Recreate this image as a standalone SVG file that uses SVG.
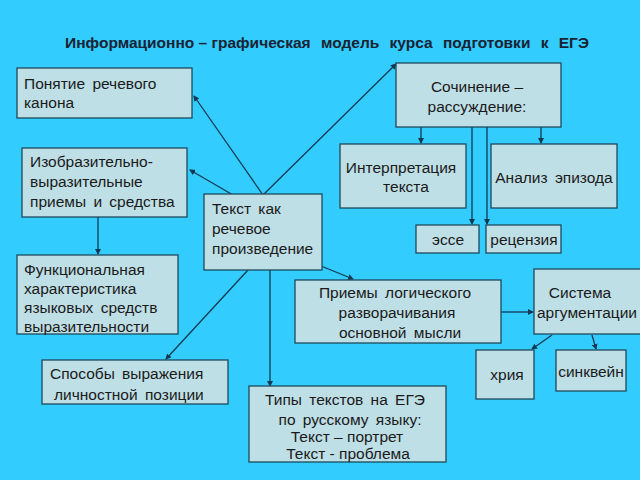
<svg xmlns="http://www.w3.org/2000/svg" width="640" height="480" viewBox="0 0 640 480">
<defs>
<marker id="ah" markerWidth="6" markerHeight="6" refX="5" refY="3" orient="auto" markerUnits="userSpaceOnUse">
<path d="M0,0 L6,3 L0,6 z" fill="#123a55"/>
</marker>
<style>
.b{fill:#bfdfe6;stroke:#1d4a5c;stroke-width:1.3}
.t{font-family:"Liberation Sans",Arial,sans-serif;font-size:15.5px;fill:#1a1a1a;word-spacing:3px}
.c{text-anchor:middle}
.n{word-spacing:0}
.ttl{font-family:"Liberation Sans",Arial,sans-serif;font-size:15.5px;font-weight:bold;fill:#1a2233;text-anchor:middle;word-spacing:6px}
.l{stroke:#123a55;stroke-width:1.3;fill:none;marker-end:url(#ah)}
</style>
</defs>
<rect width="640" height="480" fill="#33ccfe"/>
<text class="ttl" x="327" y="48">Информационно<tspan class="n"> – </tspan>графическая модель курса подготовки к ЕГЭ</text>
<g id="connectors">
<line class="l" x1="263" y1="195" x2="194" y2="96"/>
<line class="l" x1="233" y1="195" x2="190" y2="170"/>
<line class="l" x1="263" y1="195" x2="396" y2="64"/>
<line class="l" x1="98" y1="217" x2="98" y2="254"/>
<line class="l" x1="248" y1="270" x2="166" y2="359"/>
<line class="l" x1="270" y1="270" x2="270" y2="386"/>
<line class="l" x1="321" y1="266" x2="353" y2="279"/>
<line class="l" x1="421" y1="127" x2="421" y2="143"/>
<line class="l" x1="541" y1="127" x2="541" y2="143"/>
<line class="l" x1="472" y1="127" x2="472" y2="224"/>
<line class="l" x1="487" y1="123" x2="487" y2="224"/>
<line class="l" x1="501" y1="312" x2="533" y2="312"/>
<line class="l" x1="552" y1="335" x2="532" y2="349"/>
<line class="l" x1="592" y1="335" x2="596" y2="349"/>
</g>
<g id="n1"><rect class="b" x="17" y="68" width="175" height="50"/>
<text class="t" x="24" y="89">Понятие речевого</text><text class="t" x="24" y="108">канона</text></g>
<g id="n2"><rect class="b" x="22" y="148" width="165" height="69"/>
<text class="t" x="30" y="167">Изобразительно-</text><text class="t" x="30" y="187">выразительные</text><text class="t" x="30" y="207">приемы и средства</text></g>
<g id="n3"><rect class="b" x="204" y="194" width="118" height="76"/>
<text class="t" x="212" y="214">Текст как</text><text class="t" x="212" y="234">речевое</text><text class="t" x="212" y="254">произведение</text></g>
<g id="n4"><rect class="b" x="17" y="255" width="161" height="79"/>
<text class="t" x="24" y="275">Функциональная</text><text class="t" x="24" y="294">характеристика</text><text class="t" x="24" y="313">языковых средств</text><text class="t" x="24" y="332">выразительности</text></g>
<g id="n5"><rect class="b" x="42" y="360" width="186" height="44"/>
<text class="t" x="50" y="379">Способы выражения</text><text class="t" x="54" y="400">личностной позиции</text></g>
<g id="n6"><rect class="b" x="249" y="386" width="197" height="76"/>
<text class="t c" x="345" y="405">Типы текстов на ЕГЭ</text><text class="t c" x="350" y="425">по русскому языку:</text><text class="t c n" x="347" y="442">Текст – портрет</text><text class="t c n" x="348" y="459">Текст - проблема</text></g>
<g id="n7"><rect class="b" x="396" y="63" width="165" height="64"/>
<text class="t c n" x="477" y="92">Сочинение –</text><text class="t c" x="477" y="112">рассуждение:</text></g>
<g id="n8"><rect class="b" x="340" y="144" width="126" height="64"/>
<text class="t c" x="401" y="173">Интерпретация</text><text class="t c" x="406" y="192">текста</text></g>
<g id="n9"><rect class="b" x="491" y="144" width="126" height="64"/>
<text class="t c" x="554" y="183">Анализ эпизода</text></g>
<g id="n10"><rect class="b" x="416" y="225" width="63" height="28"/>
<text class="t c" x="448" y="245">эссе</text></g>
<g id="n11"><rect class="b" x="486" y="225" width="75" height="28"/>
<text class="t c" x="524" y="245">рецензия</text></g>
<g id="n12"><rect class="b" x="295" y="280" width="206" height="63"/>
<text class="t c" x="395" y="298">Приемы логического</text><text class="t c" x="397" y="318">разворачивания</text><text class="t c" x="400" y="338">основной мысли</text></g>
<g id="n13"><rect class="b" x="534" y="269" width="108" height="65"/>
<text class="t c" x="580" y="298">Система</text><text class="t c" x="587" y="318">аргументации</text></g>
<g id="n14"><rect class="b" x="476" y="350" width="58" height="49"/>
<text class="t c" x="507" y="380">хрия</text></g>
<g id="n15"><rect class="b" x="556" y="350" width="70" height="41"/>
<text class="t c" x="591" y="377">синквейн</text></g>
</svg>
